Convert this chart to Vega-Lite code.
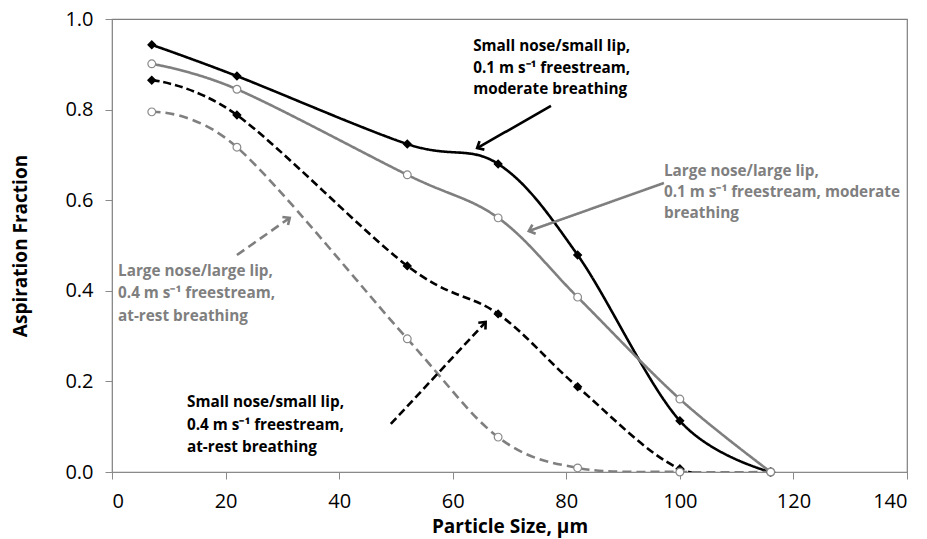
{
  "$schema": "https://vega.github.io/schema/vega-lite/v6.json",
  "autosize": {"type": "none"},
  "padding": {"left": 112, "top": 19, "right": 20, "bottom": 67},
  "width": 795,
  "height": 453,
  "background": "white",
  "config": {
    "font": "Open Sans",
    "view": {"stroke": "#7f7f7f", "strokeWidth": 1.2},
    "axis": {
      "grid": false,
      "domainColor": "#8a8a8a",
      "tickColor": "#8a8a8a",
      "tickSize": 7,
      "labelColor": "#000000",
      "labelFont": "Open Sans",
      "labelFontSize": 20,
      "titleFont": "Open Sans",
      "titleFontSize": 19,
      "titleFontWeight": "bold",
      "titleColor": "#000000"
    }
  },
  "datasets": {
    "curves": [
      {"series": "SS 0.1 moderate", "size": 7, "af": 0.943},
      {"series": "SS 0.1 moderate", "size": 22, "af": 0.874},
      {"series": "SS 0.1 moderate", "size": 52, "af": 0.724},
      {"series": "SS 0.1 moderate", "size": 68, "af": 0.68},
      {"series": "SS 0.1 moderate", "size": 82, "af": 0.479},
      {"series": "SS 0.1 moderate", "size": 100, "af": 0.113},
      {"series": "SS 0.1 moderate", "size": 116, "af": 0.0},
      {"series": "LL 0.1 moderate", "size": 7, "af": 0.901},
      {"series": "LL 0.1 moderate", "size": 22, "af": 0.845},
      {"series": "LL 0.1 moderate", "size": 52, "af": 0.656},
      {"series": "LL 0.1 moderate", "size": 68, "af": 0.561},
      {"series": "LL 0.1 moderate", "size": 82, "af": 0.386},
      {"series": "LL 0.1 moderate", "size": 100, "af": 0.161},
      {"series": "LL 0.1 moderate", "size": 116, "af": 0.0},
      {"series": "SS 0.4 at-rest", "size": 7, "af": 0.865},
      {"series": "SS 0.4 at-rest", "size": 22, "af": 0.788},
      {"series": "SS 0.4 at-rest", "size": 52, "af": 0.455},
      {"series": "SS 0.4 at-rest", "size": 68, "af": 0.349},
      {"series": "SS 0.4 at-rest", "size": 82, "af": 0.188},
      {"series": "SS 0.4 at-rest", "size": 100, "af": 0.007},
      {"series": "SS 0.4 at-rest", "size": 116, "af": 0.0},
      {"series": "LL 0.4 at-rest", "size": 7, "af": 0.795},
      {"series": "LL 0.4 at-rest", "size": 22, "af": 0.717},
      {"series": "LL 0.4 at-rest", "size": 52, "af": 0.294},
      {"series": "LL 0.4 at-rest", "size": 68, "af": 0.077},
      {"series": "LL 0.4 at-rest", "size": 82, "af": 0.009},
      {"series": "LL 0.4 at-rest", "size": 100, "af": 0.0},
      {"series": "LL 0.4 at-rest", "size": 116, "af": 0.0}
    ],
    "arrows": [
      {"series": "SS 0.1 moderate", "x": 77.3, "y": 0.808, "x2": 64.3, "y2": 0.715},
      {"series": "LL 0.1 moderate", "x": 97.2, "y": 0.638, "x2": 73.4, "y2": 0.532},
      {"series": "LL 0.4 at-rest", "x": 22.0, "y": 0.479, "x2": 31.3, "y2": 0.561},
      {"series": "SS 0.4 at-rest", "x": 49.1, "y": 0.106, "x2": 65.8, "y2": 0.331}
    ],
    "notes": [
      {"series": "SS 0.1 moderate", "x": 63.6, "y": 0.94, "line": "Small nose/small lip,"},
      {"series": "SS 0.1 moderate", "x": 63.6, "y": 0.892, "line": "0.1 m s⁻¹ freestream,"},
      {"series": "SS 0.1 moderate", "x": 63.6, "y": 0.845, "line": "moderate breathing"},
      {"series": "LL 0.1 moderate", "x": 97.2, "y": 0.664, "line": "Large nose/large lip,"},
      {"series": "LL 0.1 moderate", "x": 97.2, "y": 0.617, "line": "0.1 m s⁻¹ freestream,  moderate"},
      {"series": "LL 0.1 moderate", "x": 97.2, "y": 0.571, "line": "breathing"},
      {"series": "LL 0.4 at-rest", "x": 1.06, "y": 0.444, "line": "Large nose/large lip,"},
      {"series": "LL 0.4 at-rest", "x": 1.06, "y": 0.395, "line": "0.4 m s⁻¹ freestream,"},
      {"series": "LL 0.4 at-rest", "x": 1.06, "y": 0.344, "line": "at-rest breathing"},
      {"series": "SS 0.4 at-rest", "x": 13.2, "y": 0.155, "line": "Small nose/small lip,"},
      {"series": "SS 0.4 at-rest", "x": 13.2, "y": 0.104, "line": "0.4 m s⁻¹ freestream,"},
      {"series": "SS 0.4 at-rest", "x": 13.2, "y": 0.055, "line": "at-rest breathing"}
    ]
  },
  "resolve": {"scale": {"x": "shared", "y": "shared"}},
  "layer": [
    {
      "data": {"name": "curves"},
      "mark": {"type": "line", "interpolate": "cardinal", "tension": 0, "strokeWidth": 2.6, "clip": true},
      "encoding": {
        "x": {"field": "size", "type": "quantitative", "scale": {"domain": [0, 140], "nice": false},
          "axis": {"values": [0, 20, 40, 60, 80, 100, 120, 140], "title": "Particle Size, µm", "labelPadding": 12, "titlePadding": 6}},
        "y": {"field": "af", "type": "quantitative", "scale": {"domain": [0, 1], "nice": false},
          "axis": {"values": [0, 0.2, 0.4, 0.6, 0.8, 1.0], "format": ".1f", "title": "Aspiration Fraction", "labelPadding": 12, "titlePadding": 34}},
        "color": {"field": "series", "type": "nominal", "legend": null,
          "scale": {"domain": ["SS 0.1 moderate", "LL 0.1 moderate", "SS 0.4 at-rest", "LL 0.4 at-rest"],
                    "range": ["#000000", "#7f7f7f", "#000000", "#7f7f7f"]}},
        "strokeDash": {"field": "series", "type": "nominal", "legend": null,
          "scale": {"domain": ["SS 0.1 moderate", "LL 0.1 moderate", "SS 0.4 at-rest", "LL 0.4 at-rest"],
                    "range": [[1, 0], [1, 0], [8, 4], [9, 5]]}}
      }
    },
    {
      "data": {"name": "curves"},
      "mark": {"type": "point", "opacity": 1, "fillOpacity": 1, "strokeWidth": 1.2, "size": 60},
      "encoding": {
        "x": {"field": "size", "type": "quantitative"},
        "y": {"field": "af", "type": "quantitative"},
        "shape": {"field": "series", "type": "nominal", "legend": null,
          "scale": {"domain": ["SS 0.1 moderate", "LL 0.1 moderate", "SS 0.4 at-rest", "LL 0.4 at-rest"],
                    "range": ["diamond", "circle", "diamond", "circle"]}},
        "fill": {"field": "series", "type": "nominal", "legend": null,
          "scale": {"domain": ["SS 0.1 moderate", "LL 0.1 moderate", "SS 0.4 at-rest", "LL 0.4 at-rest"],
                    "range": ["#000000", "#ffffff", "#000000", "#ffffff"]}},
        "stroke": {"field": "series", "type": "nominal", "legend": null,
          "scale": {"domain": ["SS 0.1 moderate", "LL 0.1 moderate", "SS 0.4 at-rest", "LL 0.4 at-rest"],
                    "range": ["#000000", "#8a8a8a", "#000000", "#8a8a8a"]}}
      }
    },
    {
      "data": {"name": "arrows"},
      "mark": {"type": "rule", "strokeWidth": 2.6},
      "encoding": {
        "x": {"field": "x", "type": "quantitative"},
        "y": {"field": "y", "type": "quantitative"},
        "x2": {"field": "x2"},
        "y2": {"field": "y2"},
        "color": {"field": "series", "type": "nominal", "legend": null},
        "strokeDash": {"field": "series", "type": "nominal", "legend": null}
      }
    },
    {
      "data": {"name": "arrows"},
      "transform": [
        {"calculate": "atan2((datum.x2 - datum.x) * 795 / 140, (datum.y2 - datum.y) * 453) * 180 / PI", "as": "heading"}
      ],
      "mark": {"type": "point", "shape": "M-0.75,0.85L0,0L0.75,0.85", "filled": false, "opacity": 1, "strokeWidth": 2.6, "size": 170, "strokeCap": "butt", "strokeJoin": "miter"},
      "encoding": {
        "x": {"field": "x2", "type": "quantitative"},
        "y": {"field": "y2", "type": "quantitative"},
        "angle": {"field": "heading", "type": "quantitative", "scale": null},
        "color": {"field": "series", "type": "nominal", "legend": null}
      }
    },
    {
      "data": {"name": "notes"},
      "mark": {"type": "text", "align": "left", "baseline": "middle", "fontSize": 15.3, "fontWeight": "bold", "font": "Open Sans"},
      "encoding": {
        "x": {"field": "x", "type": "quantitative"},
        "y": {"field": "y", "type": "quantitative"},
        "text": {"field": "line"},
        "color": {"field": "series", "type": "nominal", "legend": null,
          "scale": {"domain": ["SS 0.1 moderate", "LL 0.1 moderate", "SS 0.4 at-rest", "LL 0.4 at-rest"],
                    "range": ["#000000", "#6e6e6e", "#000000", "#6e6e6e"]}}
      }
    }
  ]
}
